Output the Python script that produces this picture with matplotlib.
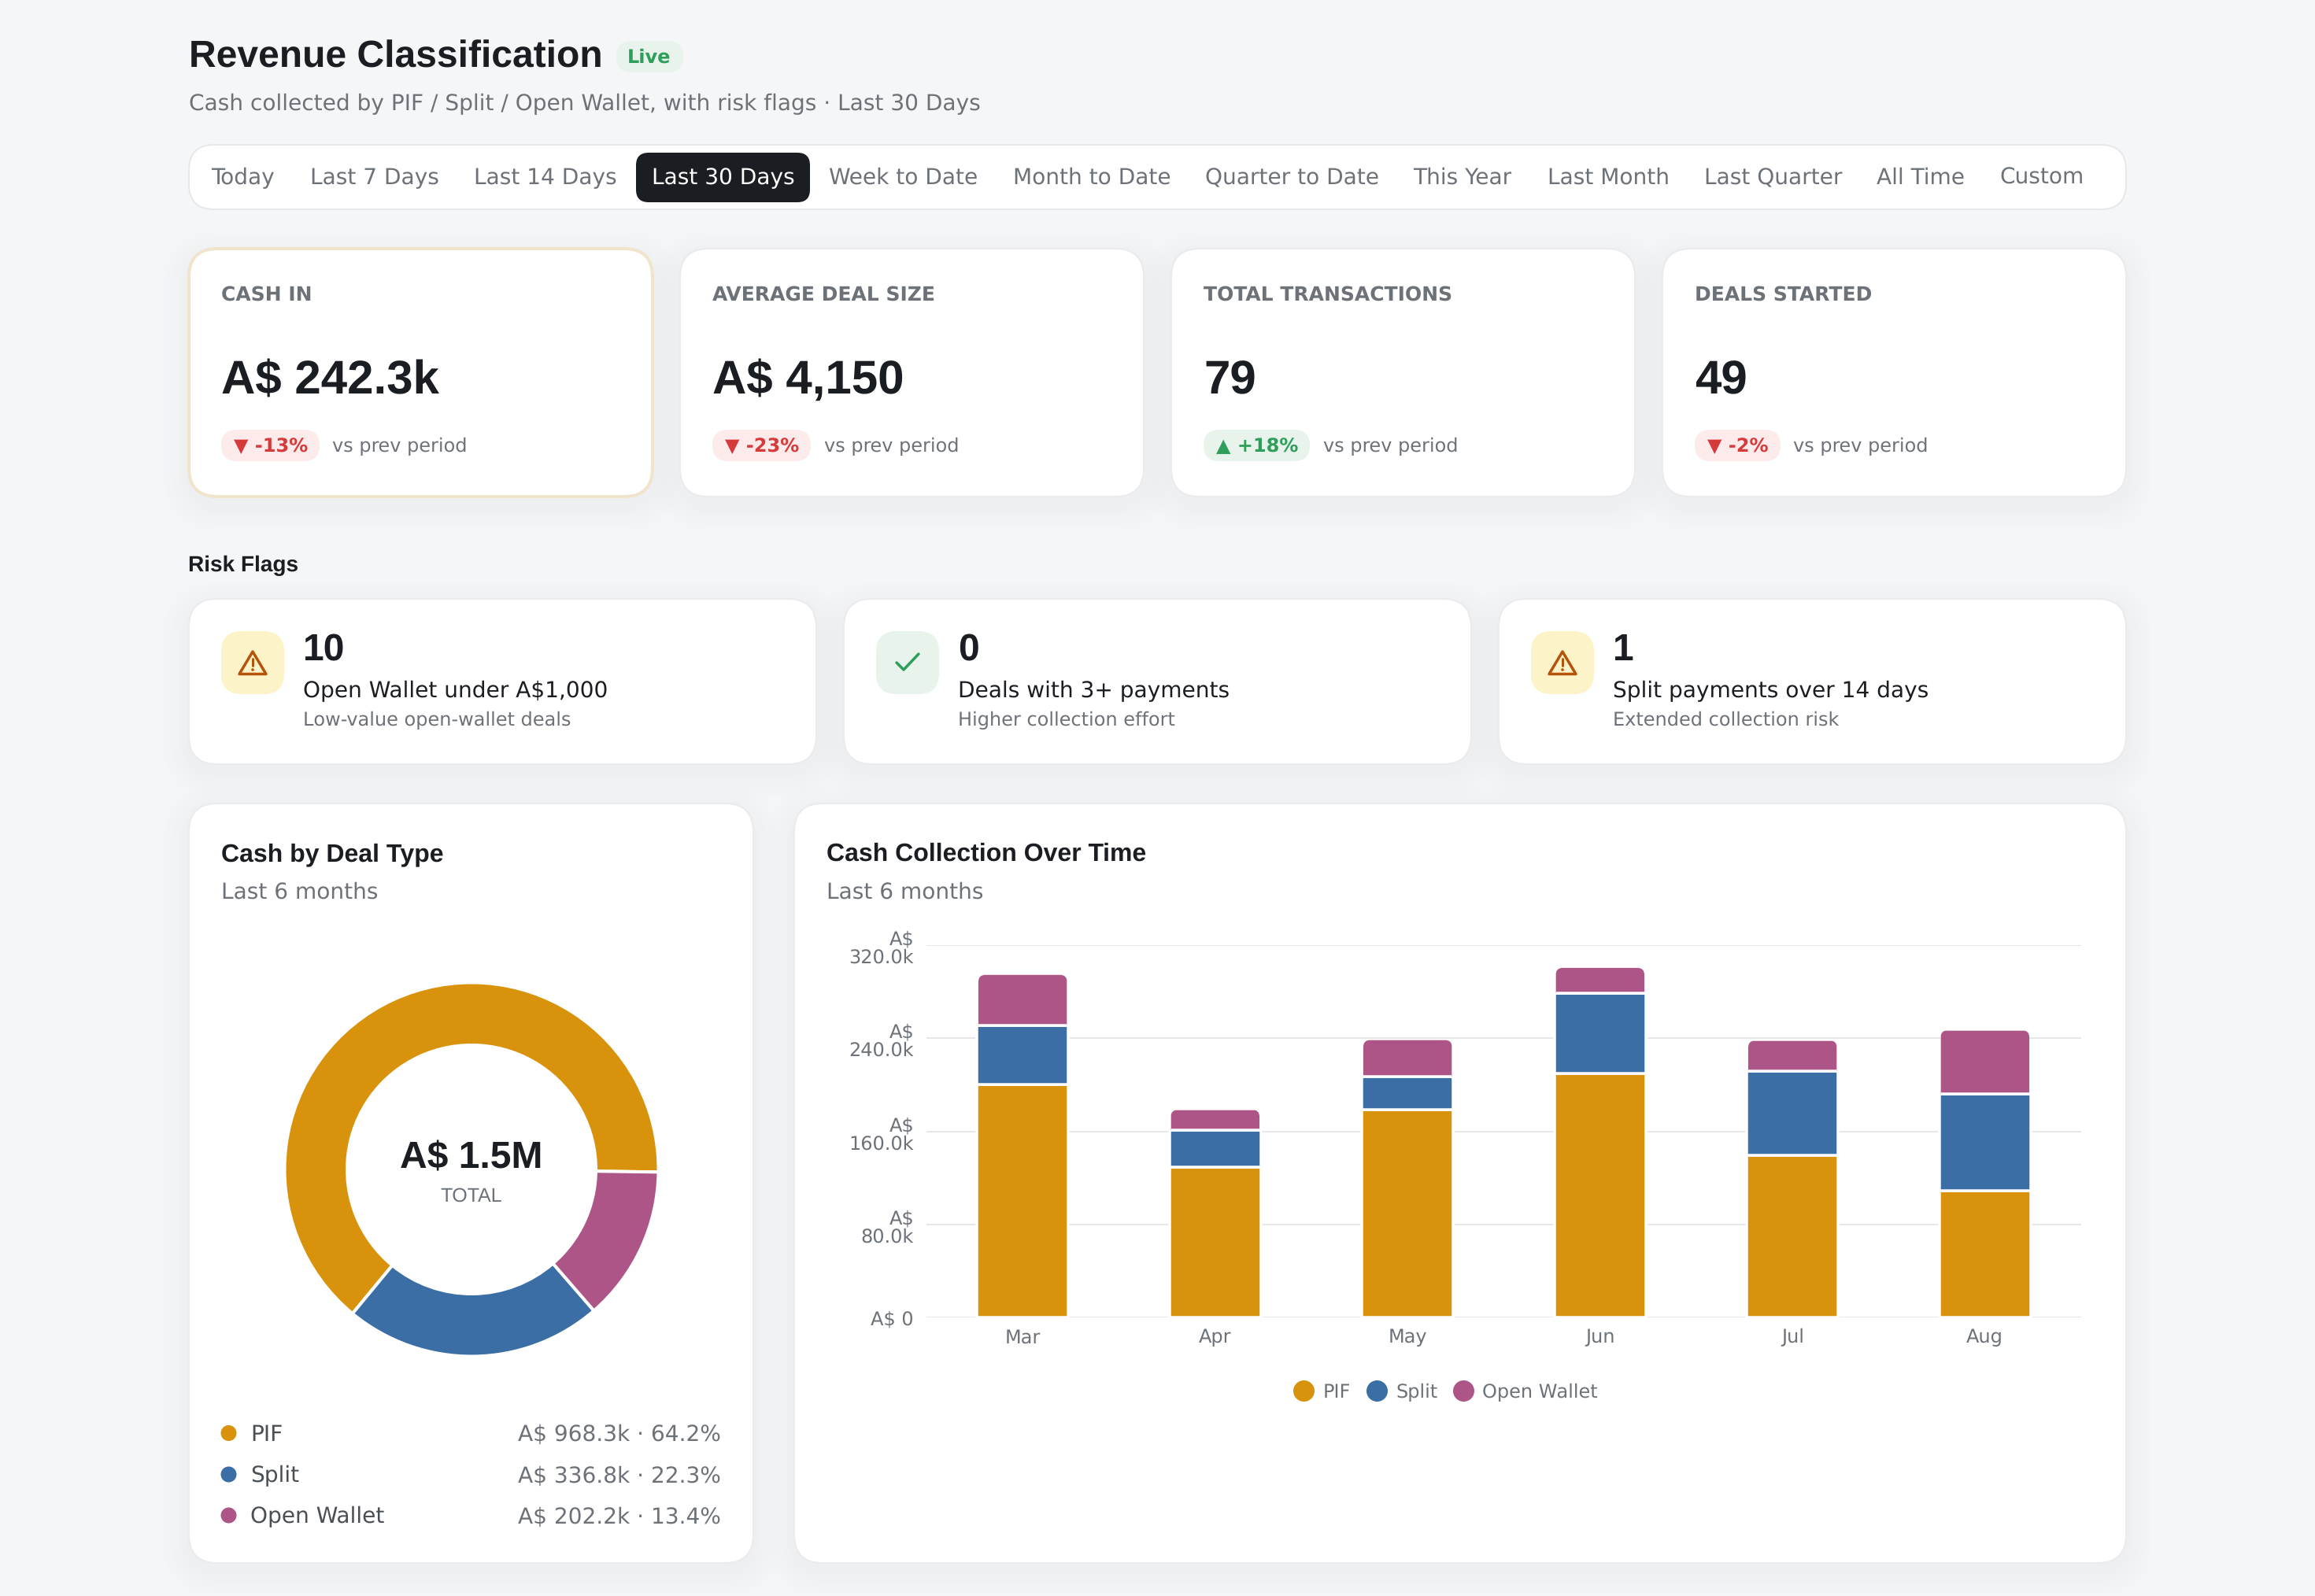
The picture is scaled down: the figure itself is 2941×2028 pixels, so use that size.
import matplotlib
matplotlib.use('Agg')
import matplotlib.pyplot as plt
from matplotlib.lines import Line2D
from matplotlib.patches import FancyBboxPatch, Polygon, Circle
from matplotlib.transforms import ScaledTranslation

plt.rcParams['text.hinting'] = 'no_hinting'
plt.rcParams['text.hinting_factor'] = 1

W, H = 2941, 2028
SANS = 'DejaVu Sans'
HEAD = 'Liberation Sans'
INK = '#1a1d21'
GREY = '#6c7278'
BG = '#f5f6f8'
GREEN = '#2e9e5b'
RED = '#d63b3b'

tabs = ['Today', 'Last 7 Days', 'Last 14 Days', 'Last 30 Days', 'Week to Date', 'Month to Date',
        'Quarter to Date', 'This Year', 'Last Month', 'Last Quarter', 'All Time', 'Custom']
tab_x = [268, 394, 602, 828, 1053, 1287, 1531, 1795, 1966, 2165, 2384, 2540]
stat_titles = ['CASH IN', 'AVERAGE DEAL SIZE', 'TOTAL TRANSACTIONS', 'DEALS STARTED']
stat_values = ['A$ 242.3k', 'A$ 4,150', '79', '49']
stat_deltas = ['▼ -13%', '▼ -23%', '▲ +18%', '▼ -2%']
risk_counts = ['10', '0', '1']
risk_names = ['Open Wallet under A$1,000', 'Deals with 3+ payments', 'Split payments over 14 days']
risk_notes = ['Low-value open-wallet deals', 'Higher collection effort', 'Extended collection risk']

deal_types = ['PIF', 'Split', 'Open Wallet']
deal_cash = [968.3, 336.8, 202.2]
deal_text = ['A$ 968.3k · 64.2%', 'A$ 336.8k · 22.3%', 'A$ 202.2k · 13.4%']
colors = ['#d9920c', '#3b6ea5', '#ae5587']

months = ['Mar', 'Apr', 'May', 'Jun', 'Jul', 'Aug']
pif = [200, 129.5, 178.5, 209.4, 139.5, 108.6]
split = [51, 31.5, 28.5, 69.1, 72.5, 83.7]
open_wallet = [44.5, 18.5, 32.5, 23, 27, 55.5]
y_ticks = [0, 80, 160, 240, 320]
y_labels = ['A$ 0', 'A$\n80.0k', 'A$\n160.0k', 'A$\n240.0k', 'A$\n320.0k']


def pt(px):
    return px * 0.72


def px_axes(fig, left, top, right, bottom):
    return fig.add_axes([left / W, 1 - bottom / H, (right - left) / W, (bottom - top) / H])


fig = plt.figure(figsize=(W / 100, H / 100), dpi=100, facecolor=BG)
bg = fig.add_axes([0, 0, 1, 1])
bg.set_xlim(0, W)
bg.set_ylim(H, 0)
bg.axis('off')


def box(x0, y0, x1, y1, r, fc, ec='none', lw=0, z=2):
    p = FancyBboxPatch((x0, y0), x1 - x0, y1 - y0, boxstyle=f'round,pad=0,rounding_size={r}',
                       fc=fc, ec=ec, lw=pt(lw), zorder=z)
    bg.add_patch(p)
    return p


def card(x0, y0, x1, y1, r=36, ec='#e9ebee', lw=2):
    # soft shadow, a few wide transparent layers
    for i in range(7):
        g = 4 + i * 5
        box(x0 - g, y0 - g + 10, x1 + g, y1 + g + 10, r + g, '#1a1d21', z=1).set_alpha(0.0032)
    box(x0, y0, x1, y1, r, 'white', ec, lw)


def txt(x, y, s, px, color=INK, family=SANS, weight='normal', ha='left'):
    return bg.text(x, y, s, fontsize=pt(px), color=color, family=family, weight=weight,
                   ha=ha, va='baseline', zorder=5)


# header
txt(240, 86, 'Revenue Classification', 48, INK, HEAD, 'bold')
box(783, 52, 868, 92, 20, '#e8f3ec')
txt(797, 80, 'Live', 24, GREEN, SANS, 'bold')
txt(240, 140, 'Cash collected by PIF / Split / Open Wallet, with risk flags · Last 30 Days', 28, GREY)

# range tabs
box(240, 184, 2701, 266, 32, 'white', '#e6e8eb', 2)
box(808, 194, 1029, 257, 16, INK, z=3)
for name, x in zip(tabs, tab_x):
    txt(x, 234, name, 28, 'white' if name == 'Last 30 Days' else GREY)

# stat cards
stat_left = [240, 864, 1488, 2112]
pill_right = [406, 1030, 1664, 2262]
vs_x = [422, 1047, 1681, 2278]
for i in range(4):
    x = stat_left[i]
    if i == 0:
        card(x, 316, x + 589, 631, ec='#f0e4cc', lw=4)
    else:
        card(x, 316, x + 589, 631)
    txt(x + 41, 382, stat_titles[i], 25, GREY, SANS, 'bold')
    txt(x + 41, 500, stat_values[i], 60, INK, HEAD, 'bold')
    up = stat_deltas[i][0] == '▲'
    box(x + 41, 546, pill_right[i], 586, 20, '#e8f3ec' if up else '#fdeaea', z=3)
    txt(x + 57, 574, stat_deltas[i], 24, GREEN if up else RED, SANS, 'bold')
    txt(vs_x[i], 574, 'vs prev period', 24, GREY)

# risk flags
txt(239, 726, 'Risk Flags', 28, INK, HEAD, 'bold')
risk_left = [240, 1072, 1904]
for i in range(3):
    x = risk_left[i]
    card(x, 761, x + 797, 971)
    ok = risk_counts[i] == '0'
    box(x + 41, 802, x + 121, 882, 26, '#e8f3ec' if ok else '#fdf3c8', z=3)
    if ok:
        bg.plot([x + 67, x + 76, x + 95], [842, 851, 831], color=GREEN, lw=pt(3.5), zorder=4,
                solid_capstyle='round', solid_joinstyle='round')
    else:
        bg.add_patch(Polygon([(x + 81, 828), (x + 64, 856.5), (x + 98, 856.5)], closed=True, fc='none',
                             ec='#b45309', lw=pt(3.5), joinstyle='round', zorder=4))
        bg.plot([x + 81, x + 81], [837, 846], color='#b45309', lw=pt(3), zorder=4, solid_capstyle='round')
        bg.add_patch(Circle((x + 81, 851), 1.8, fc='#b45309', ec='none', zorder=4))
    tx = x + 145
    txt(tx, 839, risk_counts[i], 48, INK, HEAD, 'bold')
    txt(tx, 886, risk_names[i], 28, INK)
    txt(tx, 922, risk_notes[i], 24, GREY)

# donut card
card(240, 1021, 957, 1986)
txt(281, 1094, 'Cash by Deal Type', 32, INK, HEAD, 'bold')
txt(281, 1142, 'Last 6 months', 28, GREY)

ax_pie = px_axes(fig, 599 - 240, 1486 - 240, 599 + 240, 1486 + 240)
ax_pie.pie(deal_cash, colors=colors, radius=237.5 / 240, startangle=-0.8,
           wedgeprops=dict(width=79.5 / 240, edgecolor='white', linewidth=pt(4)))
ax_pie.set_xlim(-1, 1)
ax_pie.set_ylim(-1, 1)
ax_pie.patch.set_alpha(0)

txt(599, 1484, 'A$ 1.5M', 48, INK, HEAD, 'bold', 'center')
txt(599, 1527, 'TOTAL', 25, GREY, HEAD, 'normal', 'center')

for name, val, c, yc in zip(deal_types, deal_text, colors, [1821, 1873.5, 1925.5]):
    bg.add_patch(Circle((290.5, yc), 10, fc=c, ec='none', zorder=4))
    txt(318, yc + 10, name, 28, '#4a4f55')
    txt(916, yc + 10, val, 28, GREY, ha='right')

# stacked bars card
card(1009, 1021, 2701, 1986)
txt(1050, 1094, 'Cash Collection Over Time', 32, INK, HEAD, 'bold')
txt(1050, 1142, 'Last 6 months', 28, GREY)

ax = px_axes(fig, 1177, 1201, 2644, 1674)
ax.patch.set_alpha(0)
x = range(len(months))
bar_w = 0.473
edge = dict(edgecolor='white', linewidth=pt(3.5))
ax.bar(x, pif, bar_w, color=colors[0], zorder=3, **edge)
low = [a + b for a, b in zip(pif, split)]
ax.bar(x, split, bar_w, bottom=pif, color=colors[1], zorder=3, **edge)
tops = ax.bar(x, open_wallet, bar_w, bottom=low, color=colors[2], zorder=3, **edge)

# only the top segment has rounded corners
x_per_px = 6 / (2644 - 1177)
y_per_px = 320 / (1674 - 1201)
for b in tops:
    inset = 1.5 * x_per_px
    clip = FancyBboxPatch((b.get_x() + inset, b.get_y() - 30), b.get_width() - 2 * inset,
                          b.get_height() + 30 - 1.5 * y_per_px,
                          boxstyle=f'round,pad=0,rounding_size={9 * x_per_px}',
                          mutation_aspect=y_per_px / x_per_px, transform=ax.transData)
    b.set_clip_path(clip)

ax.set_xlim(-0.5, 5.5)
ax.set_ylim(0, 320)
ax.set_xticks(list(x), months)
ax.set_yticks(y_ticks, y_labels, ha='right', multialignment='right', linespacing=1.0)
ax.tick_params(axis='both', length=0, labelsize=pt(24.5), labelcolor=GREY, labelfontfamily=SANS)
ax.tick_params(axis='x', pad=pt(14))
ax.tick_params(axis='y', pad=pt(16))
ax.grid(axis='y', color='#e5e7eb', lw=pt(2), zorder=0)
ax.set_axisbelow(True)
for s in ax.spines.values():
    s.set_visible(False)
# the two-line labels sit a little lower than the gridline
for lab in ax.get_yticklabels()[1:]:
    lab.set_transform(lab.get_transform() + ScaledTranslation(0, -2 / 100, fig.dpi_scale_trans))

handles = [Line2D([], [], ls='none', marker='o', ms=pt(27), mfc=c, mec='none') for c in colors]
ax.legend(handles, deal_types, ncol=3, frameon=False, loc='center', fontsize=pt(24), labelcolor=GREY,
          bbox_to_anchor=((1836 - 1177) / (2644 - 1177), 1 - (1769 - 1201) / (1674 - 1201)),
          handletextpad=0.42, columnspacing=0.75, handlelength=1.2, borderpad=0)

fig.savefig('out.png', dpi=100, facecolor=BG)
